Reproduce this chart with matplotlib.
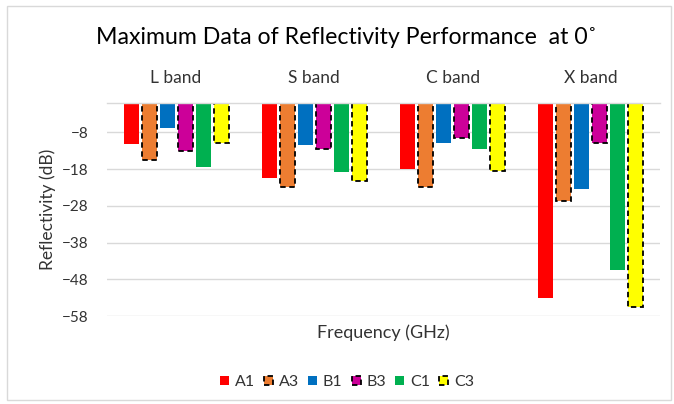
import numpy as np
import matplotlib.pyplot as plt
from matplotlib.patches import Rectangle

plt.rcParams['font.family'] = ['Lato', 'DejaVu Sans']

bands = ['L band', 'S band', 'C band', 'X band']
series = ['A1', 'A3', 'B1', 'B3', 'C1', 'C3']
A1 = [-11.2, -20.4, -18.0, -53.1]
A3 = [-15.6, -22.9, -22.9, -26.8]
B1 = [-6.8, -11.4, -10.9, -23.4]
B3 = [-13.0, -12.4, -9.6, -11.0]
C1 = [-17.5, -18.7, -12.4, -45.5]
C3 = [-11.0, -21.3, -18.5, -55.6]
values = [A1, A3, B1, B3, C1, C3]
colors = ['#FF0000', '#ED7D31', '#0070C0', '#CC0099', '#00B050', '#FFFF00']
dashed = [False, True, False, True, False, True]
txt = '#333333'

fig = plt.figure(figsize=(6.74, 4.04), dpi=100)
fig.patches.append(Rectangle((0.01, 0.01), 0.985, 0.975, transform=fig.transFigure,
                             fill=False, edgecolor='#D9D9D9', linewidth=1))
ax = fig.add_axes([107 / 674, 1 - 316 / 404, (660 - 107) / 674, (316 - 103) / 404])

x = np.arange(len(bands))
step, width = 0.13, 0.108
for j, (vals, c, d) in enumerate(zip(values, colors, dashed)):
    pos = x + (j - 2.5) * step
    if d:
        ax.bar(pos, vals, width=width, color=c, edgecolor='black', linestyle=(0, (3, 2)),
               linewidth=1.3, label=series[j])
    else:
        ax.bar(pos, vals, width=width, color=c, label=series[j])

ax.set_xlim(-0.5, 3.5)
ax.set_ylim(-58, 0)
ax.set_yticks(np.arange(-58, 0, 10))
ax.yaxis.grid(True, color='#D9D9D9', linewidth=1)
ax.set_axisbelow(True)
for s in ['left', 'right', 'bottom']:
    ax.spines[s].set_visible(False)
ax.spines['top'].set_color('#D9D9D9')
ax.spines['top'].set_linewidth(1)
ax.tick_params(axis='y', length=0, labelsize=11, colors=txt, pad=13.5)
ax.xaxis.tick_top()
ax.set_xticks(x)
ax.set_xticklabels(bands)
ax.tick_params(axis='x', length=0, labelsize=12.5, colors=txt, pad=12)

ax.set_ylabel('Reflectivity (dB)', fontsize=12.5, color=txt, labelpad=4)
fig.text(383 / 674, 1 - 333 / 404, 'Frequency (GHz)', ha='center', va='center',
         fontsize=13, color=txt)
fig.text(346 / 674, 1 - 38 / 404, 'Maximum Data of Reflectivity Performance  at 0˚',
         ha='center', va='center', fontsize=16.7, color='#000000')

fig.legend(loc='center', bbox_to_anchor=(347 / 674, 1 - 382 / 404), ncol=6, frameon=False,
           fontsize=11.5, handlelength=0.55, handleheight=0.55, handletextpad=0.35,
           columnspacing=0.6, labelcolor=txt)

fig.savefig('out.png', dpi=100)
